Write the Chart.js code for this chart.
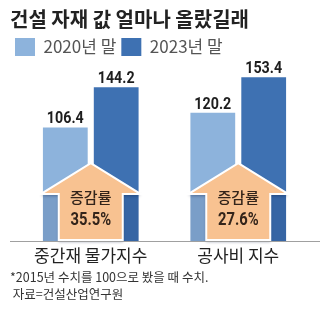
<!DOCTYPE html>
<html>
<head>
<meta charset="utf-8">
<script src="https://cdn.jsdelivr.net/npm/chart.js@4/dist/chart.umd.min.js"></script>
<style>
  html, body { margin: 0; padding: 0; background: #fff; }
  #wrap { width: 329px; height: 332px; }
</style>
</head>
<body>
<div id="wrap"><canvas id="chart"></canvas></div>
<script>
// 데이터 (2015년 = 100)
const categories = ['중간재 물가지수', '공사비 지수'];
const values2020 = [106.4, 120.2];
const values2023 = [144.2, 153.4];
const rates = [35.5, 27.6];
const seriesNames = ['2020년 말', '2023년 말'];
const rateLabel = '증감률';
const titleText = '건설 자재 값 얼마나 올랐길래';
const footnotes = ['*2015년 수치를 100으로 봤을 때 수치.', ' 자료=건설산업연구원'];

const KR = "'Noto Sans CJK KR', 'Noto Sans', sans-serif";
const NUM = "Roboto, 'DejaVu Sans', sans-serif";

// 좁은 글꼴 느낌으로 숫자 쓰기
function narrowText(ctx, text, x, y, squeeze) {
    ctx.save();
    ctx.translate(x, y);
    ctx.scale(squeeze, 1);
    ctx.fillText(text, 0, 0);
    ctx.restore();
}

// 증감률 화살표 + 막대 값 + 기준선
const arrowPlugin = {
    id: 'arrowPlugin',
    afterDatasetsDraw(chart) {
        const ctx = chart.ctx;
        const xScale = chart.scales.x;
        const base = chart.scales.y.getPixelForValue(0);
        const light = chart.getDatasetMeta(0).data;
        const dark = chart.getDatasetMeta(1).data;

        const tipH = 78, headH = 47, headHalf = 50, shaftHalf = 32;

        categories.forEach((c, i) => {
            const cx = xScale.getPixelForValue(i);
            const tipY = base - tipH;
            const headY = base - headH;

            // 날개 아래 그림자
            ctx.save();
            ctx.fillStyle = 'rgba(0, 25, 70, 0.13)';
            const lb = light[i], db = dark[i];
            ctx.fillRect(lb.x - lb.width / 2, headY, (cx - shaftHalf) - (lb.x - lb.width / 2), base - headY);
            ctx.fillRect(cx + shaftHalf, headY, (db.x + db.width / 2) - (cx + shaftHalf), base - headY);
            ctx.restore();

            ctx.save();
            ctx.beginPath();
            ctx.moveTo(cx, tipY);
            ctx.lineTo(cx + headHalf, headY);
            ctx.lineTo(cx + shaftHalf, headY);
            ctx.lineTo(cx + shaftHalf, base - 1);
            ctx.lineTo(cx - shaftHalf, base - 1);
            ctx.lineTo(cx - shaftHalf, headY);
            ctx.lineTo(cx - headHalf, headY);
            ctx.closePath();
            ctx.shadowColor = 'rgba(0, 20, 60, 0.35)';
            ctx.shadowBlur = 3;
            ctx.shadowOffsetY = 2;
            ctx.fillStyle = '#F8C291';
            ctx.fill();
            ctx.shadowColor = 'transparent';
            ctx.lineWidth = 2;
            ctx.strokeStyle = '#ffffff';
            ctx.stroke();
            ctx.restore();

            ctx.save();
            ctx.textAlign = 'center';
            ctx.textBaseline = 'middle';
            ctx.fillStyle = '#33241a';
            ctx.font = '500 15px ' + KR;
            ctx.fillText(rateLabel, cx, base - 44);
            ctx.font = 'bold 18px ' + NUM;
            narrowText(ctx, rates[i].toFixed(1) + '%', cx, base - 21, 0.82);
            ctx.restore();
        });

        // 막대 위 값
        ctx.save();
        ctx.textAlign = 'center';
        ctx.textBaseline = 'alphabetic';
        ctx.fillStyle = '#1e1e1e';
        ctx.font = 'bold 17px ' + NUM;
        chart.data.datasets.forEach((ds, di) => {
            chart.getDatasetMeta(di).data.forEach((bar, i) => {
                narrowText(ctx, ds.data[i].toFixed(1), bar.x, bar.y - 4, 0.84);
            });
        });
        ctx.restore();

        // 기준선
        ctx.save();
        ctx.strokeStyle = '#a0a0a0';
        ctx.lineWidth = 1;
        ctx.beginPath();
        ctx.moveTo(10, Math.round(base) + 0.5);
        ctx.lineTo(320, Math.round(base) + 0.5);
        ctx.stroke();
        ctx.restore();
    }
};

new Chart(document.getElementById('chart'), {
    type: 'bar',
    data: {
        labels: categories,
        datasets: [
            {
                label: seriesNames[0],
                data: values2020,
                backgroundColor: '#8DB3DC',
                categoryPercentage: 0.69,
                barPercentage: 0.88
            },
            {
                label: seriesNames[1],
                data: values2023,
                backgroundColor: '#3E71B2',
                categoryPercentage: 0.69,
                barPercentage: 0.88
            }
        ]
    },
    options: {
        responsive: true,
        maintainAspectRatio: false,
        animation: false,
        layout: { padding: { top: 0, left: 10, right: 17, bottom: 30 } },
        plugins: {
            title: {
                display: true,
                text: titleText,
                align: 'start',
                color: '#222',
                font: { family: KR, size: 20, weight: 'bold', lineHeight: 1.1 },
                padding: { top: 8, bottom: 3 }
            },
            legend: {
                display: true,
                align: 'start',
                labels: {
                    boxWidth: 20,
                    boxHeight: 18,
                    padding: 5,
                    color: '#555',
                    font: { family: KR, size: 17 }
                }
            },
            subtitle: {
                display: true,
                position: 'bottom',
                align: 'start',
                text: footnotes,
                color: '#333',
                font: { family: KR, size: 12.5, lineHeight: 1.3 },
                padding: { top: 0, bottom: 0 }
            },
            tooltip: { enabled: false }
        },
        scales: {
            x: {
                grid: { display: false, drawTicks: false },
                border: { display: false },
                ticks: {
                    color: '#222',
                    padding: 4,
                    font: { family: KR, size: 17 }
                }
            },
            y: {
                min: 0,
                max: 164,
                grid: { display: false, drawTicks: false },
                border: { display: false },
                ticks: { display: false },
                afterFit(scale) { scale.width = 7; }
            }
        }
    },
    plugins: [arrowPlugin]
});
</script>
</body>
</html>
